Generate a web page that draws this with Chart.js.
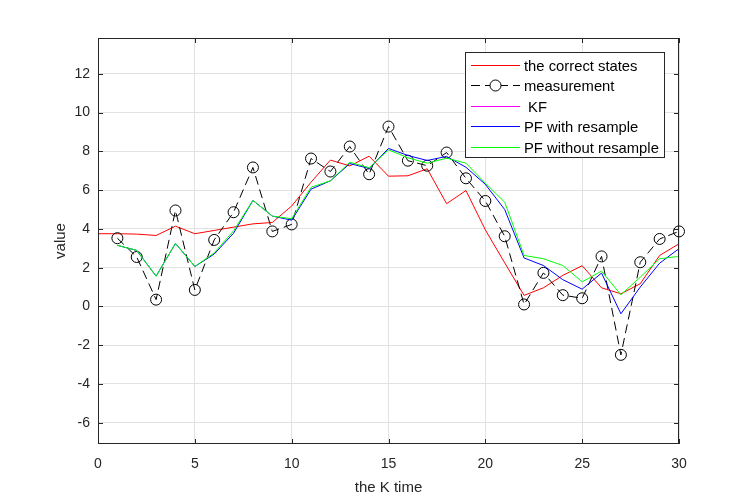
<!DOCTYPE html>
<html>
<head>
<meta charset="utf-8">
<script src="https://cdn.jsdelivr.net/npm/chart.js@4.4.1/dist/chart.umd.min.js"></script>
<style>
  html, body { margin: 0; padding: 0; background: #fff; }
  #wrap { width: 750px; height: 500px; }
</style>
</head>
<body>
<div id="wrap"><canvas id="kfChart"></canvas></div>
<script>
const stateSteps = [0, 1, 2, 3, 4, 5, 6, 7, 8, 9, 10, 11, 12, 13, 14, 15, 16, 17, 18, 19, 20, 21, 22, 23, 24, 25, 26, 27, 28, 29, 30];
const filterSteps = [1, 2, 3, 4, 5, 6, 7, 8, 9, 10, 11, 12, 13, 14, 15, 16, 17, 18, 19, 20, 21, 22, 23, 24, 25, 26, 27, 28, 29, 30];

const correctStates = [3.75, 3.75, 3.73, 3.66, 4.14, 3.75, 3.92, 4.09, 4.26, 4.33, 5.18, 6.41, 7.55, 7.25, 7.75, 6.72, 6.74, 7.10, 5.30, 5.98, 3.95, 2.25, 0.57, 0.96, 1.60, 2.10, 0.96, 0.65, 1.17, 2.63, 3.23];
const measurement = [3.52, 2.55, 0.35, 4.95, 0.85, 3.43, 4.86, 7.17, 3.87, 4.23, 7.63, 6.96, 8.25, 6.82, 9.28, 7.52, 7.26, 7.94, 6.61, 5.44, 3.62, 0.10, 1.73, 0.58, 0.42, 2.58, -2.50, 2.28, 3.48, 3.87];
const kfEstimate = [];
const pfResample = [3.15, 2.89, 1.56, 3.25, 2.06, 2.70, 3.78, 5.47, 4.66, 4.45, 6.05, 6.48, 7.37, 7.12, 8.15, 7.79, 7.53, 7.74, 7.18, 6.30, 5.00, 2.50, 2.11, 1.38, 0.89, 1.72, -0.38, 1.00, 2.23, 2.98];
const pfNoResample = [3.15, 2.89, 1.56, 3.25, 2.06, 2.76, 3.90, 5.47, 4.66, 4.52, 6.15, 6.48, 7.44, 7.15, 8.08, 7.67, 7.39, 7.65, 7.39, 6.36, 5.38, 2.63, 2.46, 2.11, 1.27, 1.82, 0.60, 1.51, 2.46, 2.58];

const xTicks = [0, 5, 10, 15, 20, 25, 30];
const yTicks = [-6, -4, -2, 0, 2, 4, 6, 8, 10, 12];

const FONT = '"Liberation Sans", Arial, sans-serif';
const AXIS_COLOR = '#262626';

function toPoints(xs, ys) {
  return ys.map((y, i) => ({ x: xs[i], y: y }));
}

// frame with inward ticks plus a boxed key in the top right, MATLAB style
const frameAndKey = {
  id: 'frameAndKey',
  afterDatasetsDraw(chart) {
    const ctx = chart.ctx;
    const a = chart.chartArea;
    const xs = chart.scales.x;
    const ys = chart.scales.y;
    const tick = 5;

    ctx.save();
    ctx.strokeStyle = AXIS_COLOR;
    ctx.lineWidth = 1;
    ctx.strokeRect(a.left + 0.5, a.top + 0.5, a.right - a.left - 1, a.bottom - a.top - 1);

    ctx.beginPath();
    xTicks.forEach(v => {
      const px = Math.round(xs.getPixelForValue(v)) + 0.5;
      ctx.moveTo(px, a.bottom); ctx.lineTo(px, a.bottom - tick);
      ctx.moveTo(px, a.top); ctx.lineTo(px, a.top + tick);
    });
    yTicks.forEach(v => {
      const py = Math.round(ys.getPixelForValue(v)) + 0.5;
      ctx.moveTo(a.left, py); ctx.lineTo(a.left + tick, py);
      ctx.moveTo(a.right, py); ctx.lineTo(a.right - tick, py);
    });
    ctx.stroke();

    // key box
    const boxW = 200, boxH = 106;
    const bx = a.right - 14 - boxW;
    const by = a.top + 14;
    ctx.fillStyle = '#fff';
    ctx.fillRect(bx, by, boxW, boxH);
    ctx.strokeStyle = AXIS_COLOR;
    ctx.strokeRect(bx + 0.5, by + 0.5, boxW - 1, boxH - 1);

    ctx.font = '14.8px ' + FONT;
    ctx.textBaseline = 'middle';
    ctx.textAlign = 'left';
    chart.data.datasets.forEach((ds, i) => {
      const cy = Math.round(by + 12.5 + i * 20.6) + 0.5;
      const x0 = bx + 6, x1 = bx + 55;
      ctx.strokeStyle = ds.borderColor;
      ctx.lineWidth = 1;
      ctx.setLineDash(ds.borderDash || []);
      ctx.beginPath();
      ctx.moveTo(x0, cy); ctx.lineTo(x1, cy);
      ctx.stroke();
      ctx.setLineDash([]);
      if (ds.pointRadius > 0) {
        ctx.fillStyle = '#fff';
        ctx.beginPath();
        ctx.arc((x0 + x1) / 2, cy, ds.pointRadius, 0, Math.PI * 2);
        ctx.fill();
        ctx.stroke();
      }
      ctx.fillStyle = '#000';
      ctx.fillText(ds.label, bx + 59, cy + 1);
    });
    ctx.restore();
  }
};

const chart = new Chart(document.getElementById('kfChart'), {
  type: 'line',
  data: {
    datasets: [
      {
        label: 'the correct states',
        data: toPoints(stateSteps, correctStates),
        borderColor: '#ff0000',
        borderWidth: 1,
        pointRadius: 0,
        order: 5
      },
      {
        label: 'measurement',
        data: toPoints(filterSteps, measurement),
        borderColor: '#000000',
        borderWidth: 1,
        borderDash: [9, 5],
        pointStyle: 'circle',
        pointRadius: 5.5,
        pointBorderColor: '#000000',
        pointBackgroundColor: 'rgba(0,0,0,0)',
        pointBorderWidth: 1,
        clip: false,
        order: 4
      },
      {
        label: ' KF',
        data: toPoints(filterSteps, kfEstimate),
        borderColor: '#ff00ff',
        borderWidth: 1,
        pointRadius: 0,
        order: 3
      },
      {
        label: 'PF with resample',
        data: toPoints(filterSteps, pfResample),
        borderColor: '#0000ff',
        borderWidth: 1,
        pointRadius: 0,
        order: 2
      },
      {
        label: 'PF without resample',
        data: toPoints(filterSteps, pfNoResample),
        borderColor: '#00ff00',
        borderWidth: 1,
        pointRadius: 0,
        order: 1
      }
    ]
  },
  options: {
    responsive: true,
    maintainAspectRatio: false,
    animation: false,
    layout: { padding: { top: 38, right: 71, left: 0, bottom: 0 } },
    plugins: {
      legend: { display: false },
      tooltip: { enabled: false }
    },
    scales: {
      x: {
        type: 'linear',
        min: 0,
        max: 30,
        afterBuildTicks: s => { s.ticks = xTicks.map(v => ({ value: v })); },
        afterFit: s => { s.height = 56; },
        ticks: { color: AXIS_COLOR, font: { family: FONT, size: 14 }, padding: 12, maxRotation: 0 },
        grid: { color: '#e2e2e2', drawTicks: false },
        border: { display: false },
        title: {
          display: true,
          text: 'the K time',
          color: AXIS_COLOR,
          font: { family: FONT, size: 15 },
          padding: { top: 0, bottom: 3 }
        }
      },
      y: {
        type: 'linear',
        min: -7.1,
        max: 13.85,
        afterBuildTicks: s => { s.ticks = yTicks.map(v => ({ value: v })); },
        afterFit: s => { s.width = 98; },
        ticks: { color: AXIS_COLOR, font: { family: FONT, size: 14 }, padding: 8 },
        grid: { color: '#e2e2e2', drawTicks: false },
        border: { display: false },
        title: {
          display: true,
          text: 'value',
          color: AXIS_COLOR,
          font: { family: FONT, size: 15 },
          padding: { top: 52, bottom: 0 }
        }
      }
    }
  },
  plugins: [frameAndKey]
});
</script>
</body>
</html>
